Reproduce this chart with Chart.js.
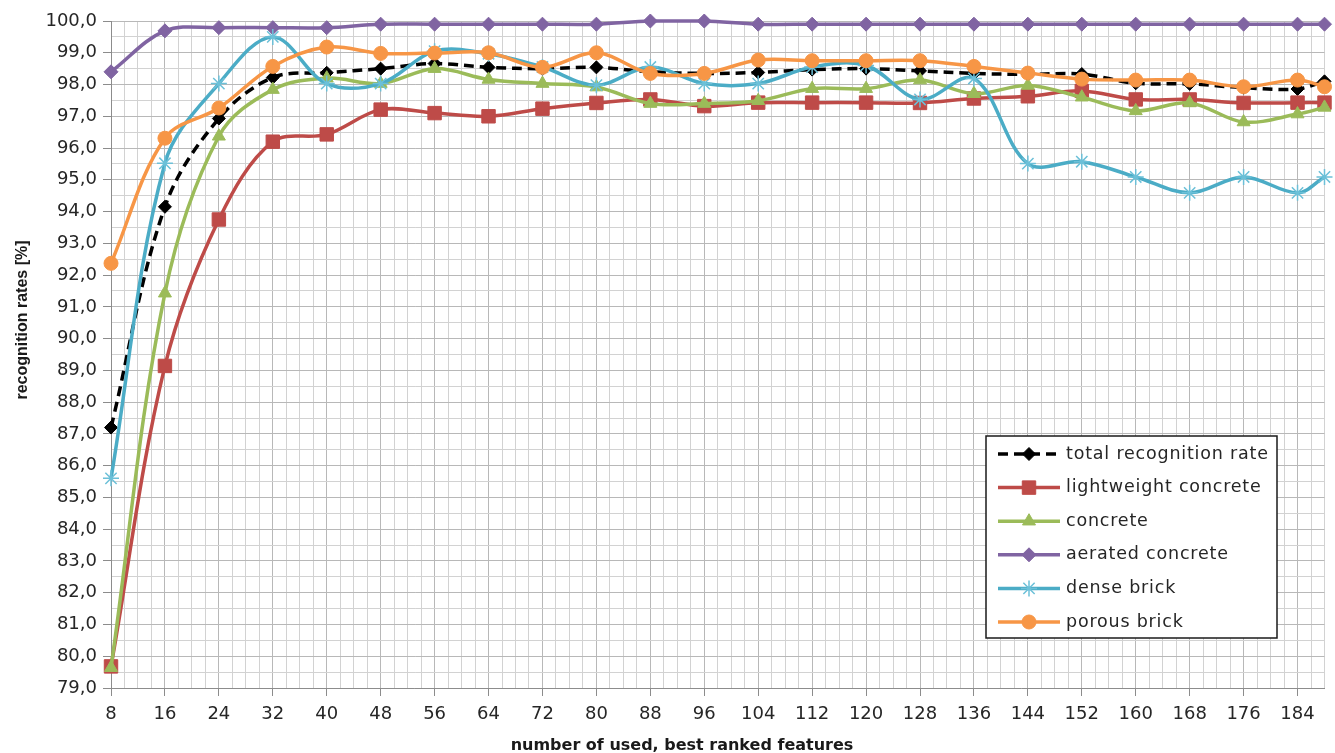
<!DOCTYPE html>
<html>
<head>
<meta charset="utf-8">
<title>recognition rates</title>
<script src="https://cdn.jsdelivr.net/npm/chart.js@4.4.1/dist/chart.umd.min.js"></script>
<style>
    html, body { margin: 0; padding: 0; background: #fff; }
    #chart-wrap { width: 1335px; height: 753px; }
</style>
</head>
<body>
<div id="chart-wrap"><canvas id="rates-chart" width="1335" height="753"></canvas></div>
<script>
// number of used, best ranked features
const features = [8, 16, 24, 32, 40, 48, 56, 64, 72, 80, 88, 96, 104, 112, 120, 128, 136, 144, 152, 160, 168, 176, 184, 188];

// recognition rates [%]
const totalRate = [87.2, 94.15, 96.93, 98.22, 98.37, 98.5, 98.66, 98.54, 98.5, 98.54, 98.4, 98.35, 98.38, 98.47, 98.5, 98.43, 98.35, 98.32, 98.33, 98.04, 98.02, 97.9, 97.86, 98.1];
const lightweightConcrete = [79.68, 89.14, 93.75, 96.2, 96.43, 97.21, 97.1, 97.0, 97.24, 97.42, 97.53, 97.32, 97.43, 97.43, 97.43, 97.42, 97.56, 97.63, 97.8, 97.53, 97.53, 97.42, 97.43, 97.43];
const concrete = [79.64, 91.43, 96.37, 97.84, 98.2, 98.03, 98.5, 98.16, 98.03, 97.92, 97.4, 97.4, 97.49, 97.87, 97.87, 98.14, 97.71, 97.97, 97.6, 97.17, 97.42, 96.82, 97.07, 97.28];
const aeratedConcrete = [98.4, 99.69, 99.79, 99.79, 99.79, 99.9, 99.9, 99.9, 99.9, 99.9, 100.0, 100.0, 99.9, 99.9, 99.9, 99.9, 99.9, 99.9, 99.9, 99.9, 99.9, 99.9, 99.9, 99.9];
const denseBrick = [85.6, 95.52, 98.03, 99.5, 98.03, 98.03, 99.05, 98.97, 98.55, 97.98, 98.55, 98.03, 98.03, 98.55, 98.6, 97.53, 98.19, 95.51, 95.57, 95.09, 94.59, 95.09, 94.59, 95.09];
const porousBrick = [92.37, 96.31, 97.26, 98.57, 99.18, 98.98, 98.99, 99.0, 98.54, 99.0, 98.35, 98.35, 98.77, 98.75, 98.75, 98.75, 98.57, 98.36, 98.17, 98.14, 98.14, 97.93, 98.14, 97.93];

const seriesNames = ['total recognition rate', 'lightweight concrete', 'concrete', 'aerated concrete', 'dense brick', 'porous brick'];

// axis range and tick labels
const xMin = 8;
const xMax = 188;
const xLabelStep = 8;
const xLastLabel = 184;
const yMin = 79;
const yMax = 100;
const xTitle = 'number of used, best ranked features';
const yTitle = 'recognition rates [%]';

class RatesChart {
    constructor() {
        this.seriesValues = [totalRate, lightweightConcrete, concrete, aeratedConcrete, denseBrick, porousBrick];
        this.styles = [
            { color: '#000000', point: 'rectRot', radius: 6.5, dash: [10, 6], pointWidth: 1 },
            { color: '#BE4B48', point: 'rect', radius: 9.5, dash: [], pointWidth: 1 },
            { color: '#9BBB59', point: 'triangle', radius: 7.5, dash: [], pointWidth: 1 },
            { color: '#8064A2', point: 'rectRot', radius: 7, dash: [], pointWidth: 1 },
            { color: '#4BACC6', point: 'star', radius: 8, dash: [], pointWidth: 1.5, pointColor: '#6cc0d8' },
            { color: '#F79646', point: 'circle', radius: 7, dash: [], pointWidth: 1 }
        ];
        this.init();
    }

    init() {
        this.setupChart();
    }

    buildDatasets() {
        return this.seriesValues.map((values, i) => {
            const s = this.styles[i];
            const pc = s.pointColor || s.color;
            return {
                label: seriesNames[i],
                data: features.map((f, k) => ({ x: f, y: values[k] })),
                borderColor: s.color,
                backgroundColor: s.color,
                borderWidth: 3.5,
                borderDash: s.dash,
                tension: 0.35,
                pointStyle: s.point,
                pointRadius: s.radius,
                pointBackgroundColor: pc,
                pointBorderColor: pc,
                pointBorderWidth: s.pointWidth,
                order: seriesNames.length - i,
                clip: false
            };
        });
    }

    setupChart() {
        const isMajorY = v => Math.abs(v - Math.round(v)) < 1e-6;
        const isMajorX = v => Math.abs((v - xMin) % xLabelStep) < 1e-6;

        // legend box drawn inside the plot, like the spreadsheet original
        const legendBox = {
            id: 'legendBox',
            afterDraw(chart) {
                const ctx = chart.ctx;
                const x = 986, y = 436, w = 291, h = 202;
                ctx.save();
                ctx.fillStyle = '#ffffff';
                ctx.fillRect(x, y, w, h);
                ctx.strokeStyle = '#1a1a1a';
                ctx.lineWidth = 1.5;
                ctx.strokeRect(x, y, w, h);
                chart.data.datasets.forEach((ds, i) => {
                    const cy = y + 18 + i * 33.6;
                    ctx.beginPath();
                    ctx.setLineDash(ds.borderDash || []);
                    ctx.strokeStyle = ds.borderColor;
                    ctx.lineWidth = ds.borderWidth;
                    ctx.moveTo(x + 12, cy);
                    ctx.lineTo(x + 74, cy);
                    ctx.stroke();
                    ctx.setLineDash([]);
                    ctx.fillStyle = ds.pointBackgroundColor;
                    ctx.strokeStyle = ds.pointBorderColor;
                    ctx.lineWidth = ds.pointBorderWidth;
                    Chart.helpers.drawPoint(ctx, {
                        pointStyle: ds.pointStyle,
                        radius: ds.pointRadius,
                        rotation: 0,
                        borderWidth: ds.pointBorderWidth
                    }, x + 43, cy);
                    ctx.fillStyle = '#262626';
                    ctx.font = '17.5px "DejaVu Sans"';
                    ctx.letterSpacing = '0.8px';
                    ctx.textBaseline = 'middle';
                    ctx.textAlign = 'left';
                    ctx.fillText(ds.label, x + 80, cy);
                });
                ctx.restore();
            }
        };

        // axis titles
        const axisTitles = {
            id: 'axisTitles',
            afterDraw(chart) {
                const ctx = chart.ctx;
                ctx.save();
                ctx.fillStyle = '#1a1a1a';
                ctx.textAlign = 'center';
                ctx.textBaseline = 'alphabetic';
                ctx.font = 'bold 16px "DejaVu Sans"';
                ctx.fillText(xTitle, 682, 750);
                ctx.translate(27, 320);
                ctx.rotate(-Math.PI / 2);
                ctx.font = 'bold 16px "Liberation Sans"';
                ctx.fillText(yTitle, 0, 0);
                ctx.restore();
            }
        };

        this.chart = new Chart(document.getElementById('rates-chart'), {
            type: 'line',
            data: { datasets: this.buildDatasets() },
            options: {
                responsive: false,
                animation: false,
                devicePixelRatio: 1,
                layout: { padding: { top: 21, right: 7, left: 0, bottom: 0 } },
                plugins: {
                    legend: { display: false },
                    tooltip: { enabled: false }
                },
                scales: {
                    x: {
                        type: 'linear',
                        min: xMin,
                        max: xMax,
                        afterFit: scale => { scale.height = 65; },
                        border: { color: '#8c8c8c', width: 1 },
                        grid: {
                            color: c => isMajorX(c.tick.value) ? '#b8b8b8' : '#d2d2d2',
                            tickColor: c => isMajorX(c.tick.value) ? '#8c8c8c' : 'rgba(0,0,0,0)',
                            tickLength: 8
                        },
                        ticks: {
                            stepSize: 2,
                            autoSkip: false,
                            maxRotation: 0,
                            padding: 8,
                            color: '#262626',
                            font: { family: 'DejaVu Sans', size: 18 },
                            callback: v => (isMajorX(v) && v <= xLastLabel) ? String(v) : ''
                        }
                    },
                    y: {
                        min: yMin,
                        max: yMax,
                        afterFit: scale => { scale.width = 111; },
                        border: { color: '#8c8c8c', width: 1 },
                        grid: {
                            color: c => isMajorY(c.tick.value) ? '#b8b8b8' : '#d2d2d2',
                            tickColor: c => isMajorY(c.tick.value) ? '#8c8c8c' : 'rgba(0,0,0,0)',
                            tickLength: 8
                        },
                        ticks: {
                            stepSize: 0.5,
                            autoSkip: false,
                            padding: 6,
                            color: '#262626',
                            font: { family: 'DejaVu Sans', size: 18 },
                            callback: v => isMajorY(v) ? v.toFixed(1).replace('.', ',') : ''
                        }
                    }
                }
            },
            plugins: [legendBox, axisTitles]
        });
    }
}

document.addEventListener('DOMContentLoaded', () => {
    new RatesChart();
});
</script>
</body>
</html>
